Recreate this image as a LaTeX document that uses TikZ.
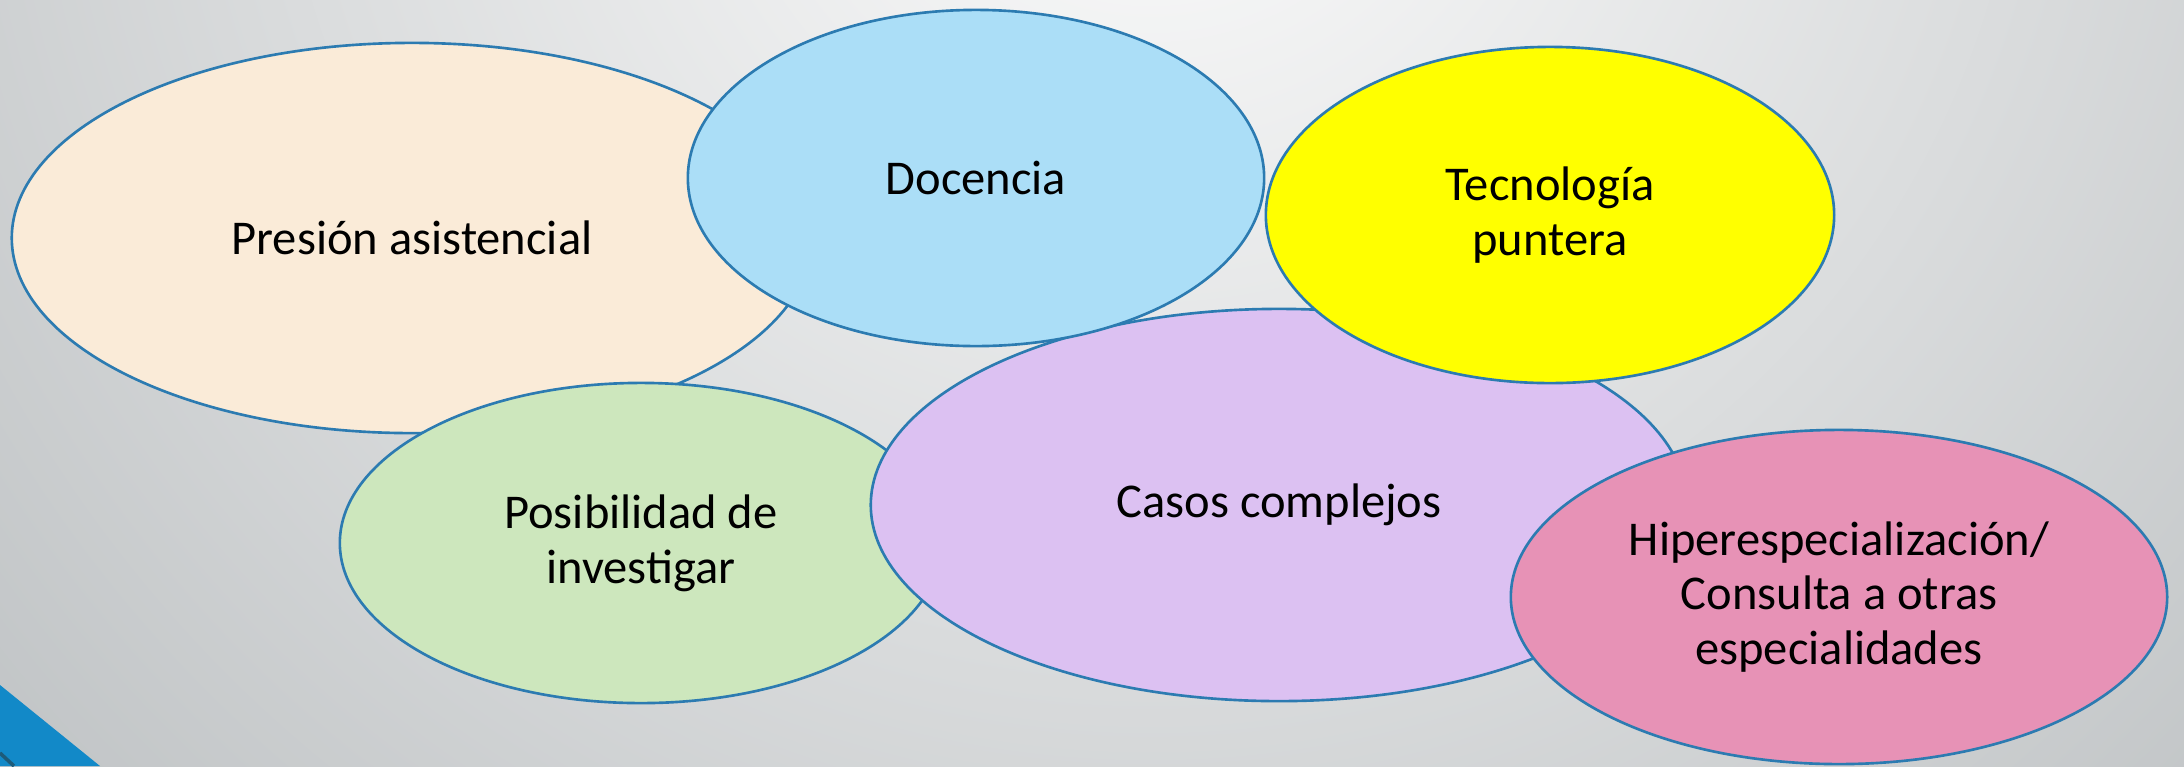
\documentclass[tikz,border=0pt]{standalone}
\usepackage{fontspec}
\setmainfont{Carlito}
\usetikzlibrary{shapes.geometric}
\definecolor{bgin}{HTML}{FDFDFD}
\definecolor{bgout}{HTML}{B8BCBE}
\definecolor{edge}{HTML}{2C7BB1}
\definecolor{cpres}{HTML}{FAEBD8}
\definecolor{cdoc}{HTML}{ABDEF7}
\definecolor{ctec}{HTML}{FFFF00}
\definecolor{cpos}{HTML}{CDE7BD}
\definecolor{ccas}{HTML}{DCC1F2}
\definecolor{chip}{HTML}{E792B6}
\definecolor{corner}{HTML}{1289C8}
\definecolor{cornerdark}{HTML}{1D5B7A}
\tikzset{
  bub/.style={ellipse, draw=edge, line width=0.75pt, inner sep=0pt, align=center,
    font=\fontsize{13.8}{15.6}\selectfont, text=black},
}
\begin{document}
\begin{tikzpicture}[x=0.01cm,y=-0.01cm]
\useasboundingbox (0,0) rectangle (2184,766);
\begin{scope}
\clip (0,0) rectangle (2184,766);
\fill[bgout] (0,0) rectangle (2184,766);
\shade[inner color=bgin, outer color=bgout] (1150,-250) circle (1750);
\fill[corner] (0,685) -- (100,766) -- (0,766) -- cycle;
\draw[cornerdark, line width=1pt] (0,753) -- (14,766);
\end{scope}
\node[bub, fill=cpres, minimum width=8.0cm, minimum height=3.9cm] (pres) at (412,238) {Presión asistencial};
\node[bub, fill=cpos, minimum width=6.02cm, minimum height=3.2cm] (pos) at (641,543) {Posibilidad de\\investigar};
\node[bub, fill=ccas, minimum width=8.16cm, minimum height=3.92cm] (cas) at (1279,505) {Casos complejos};
\node[bub, fill=cdoc, minimum width=5.76cm, minimum height=3.36cm] (doc) at (976,178) {Docencia};
\node[bub, fill=ctec, minimum width=5.68cm, minimum height=3.36cm] (tec) at (1550,215) {Tecnología\\puntera};
\node[bub, fill=chip, minimum width=6.56cm, minimum height=3.34cm] (hip) at (1839,597) {Hiperespecialización/\\Consulta a otras\\especialidades};
\end{tikzpicture}
\end{document}
